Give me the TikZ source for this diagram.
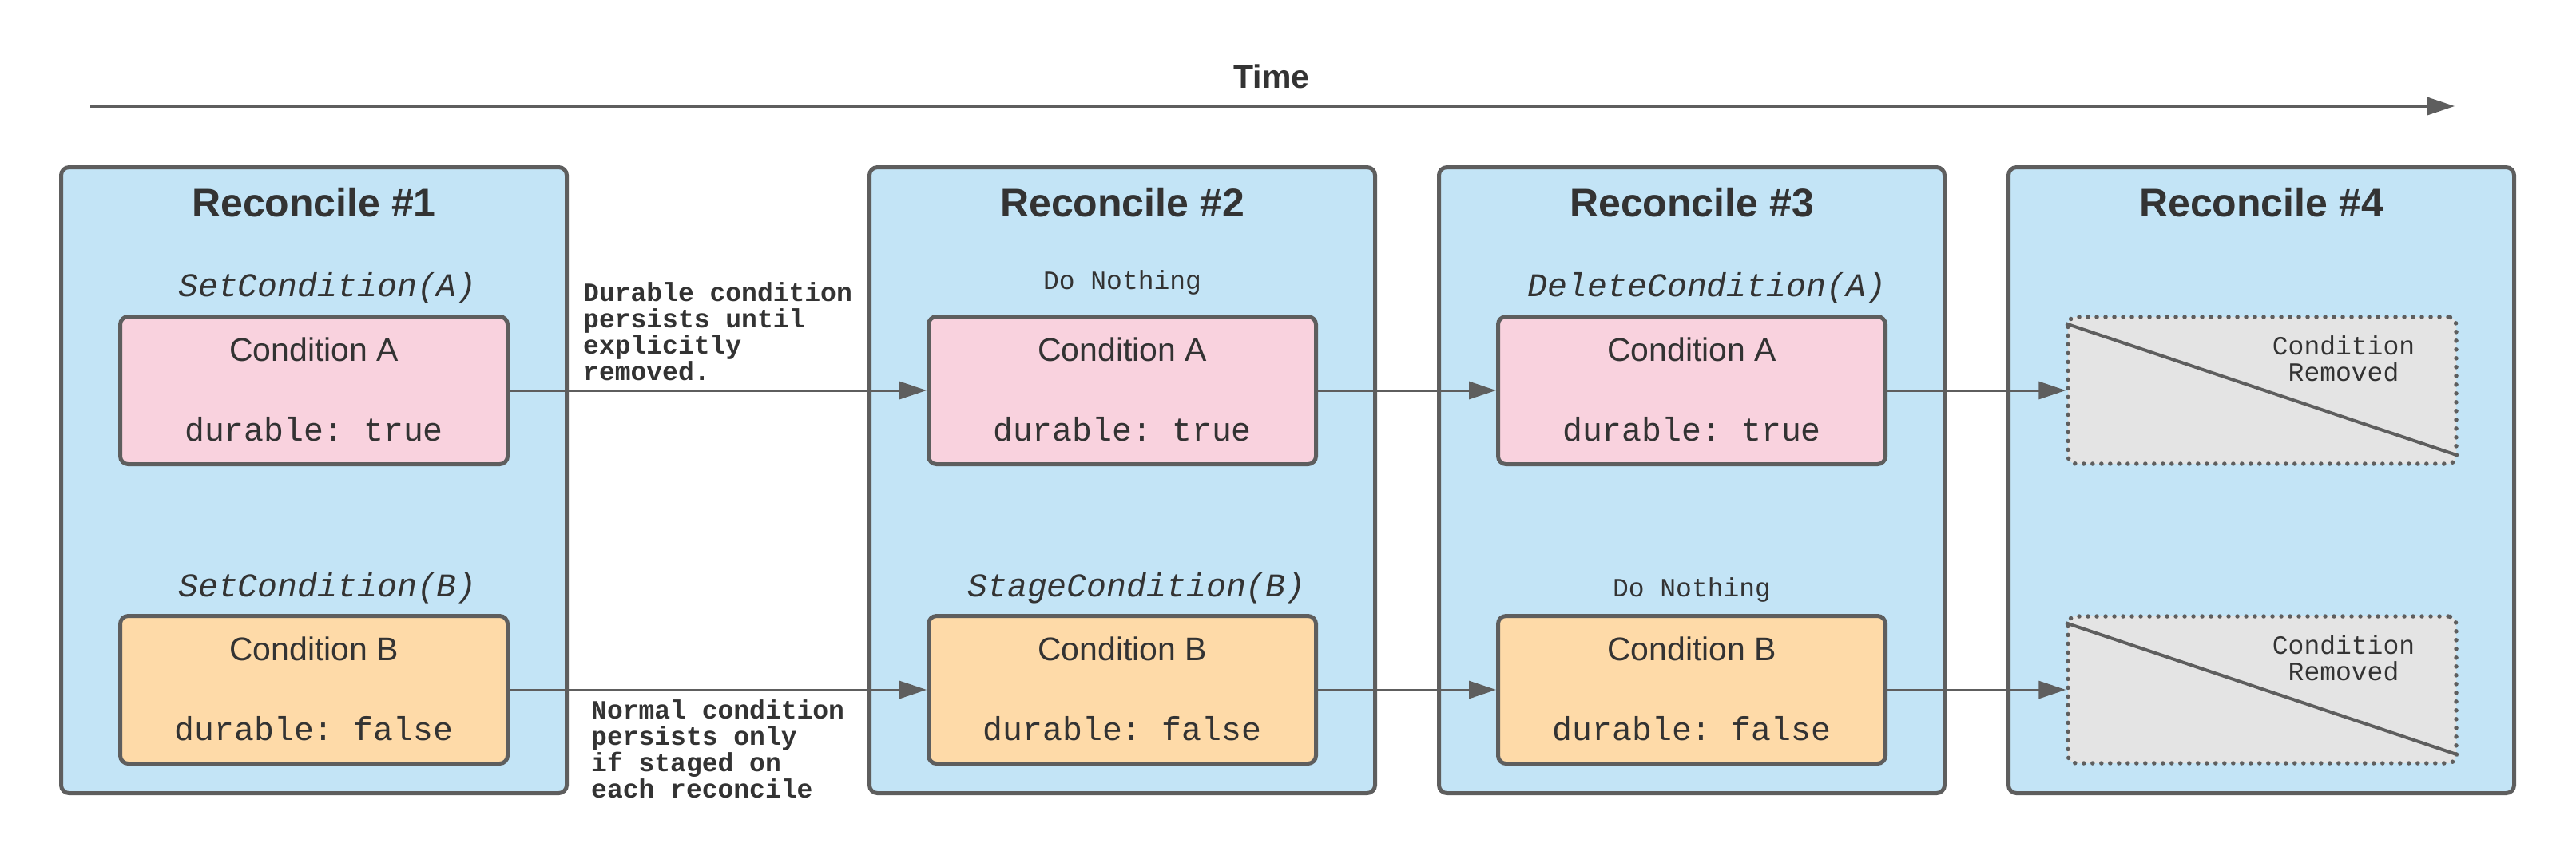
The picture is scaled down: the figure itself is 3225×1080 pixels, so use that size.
\documentclass[tikz,border=0pt]{standalone}
\usepackage{fontspec}
\setmainfont{Liberation Sans}
\setmonofont{Liberation Mono}
\usetikzlibrary{arrows.meta}
\definecolor{recfill}{HTML}{C3E4F6}
\definecolor{edge}{HTML}{5E5E5E}
\definecolor{ink}{HTML}{333333}
\definecolor{pinkfill}{HTML}{F9D2DE}
\definecolor{peachfill}{HTML}{FEDAA8}
\definecolor{gonefill}{HTML}{E4E4E4}
\begin{document}
\begin{tikzpicture}[x=1pt,y=-1pt,
  recbox/.style={draw=edge, line width=5pt, fill=recfill, rounded corners=10pt,
    minimum width=633pt, minimum height=784pt, inner sep=0pt},
  condbox/.style={draw=edge, line width=5pt, rounded corners=10pt,
    minimum width=485pt, minimum height=185pt, inner sep=0pt},
  pinkbox/.style={condbox, fill=pinkfill},
  peachbox/.style={condbox, fill=peachfill},
  gonebox/.style={draw=edge, line width=5.5pt, fill=gonefill, rounded corners=10pt,
    dash pattern=on 0pt off 11pt, line cap=round,
    minimum width=486pt, minimum height=184pt, inner sep=0pt},
  flow/.style={draw=edge, line width=3pt, -{Triangle[length=34pt,width=22pt]}},
  slash/.style={draw=edge, line width=4pt},
  ttl/.style={font=\fontsize{50}{50}\selectfont\bfseries, text=ink, anchor=base, inner sep=0pt},
  cname/.style={font=\fontsize{41}{41}\selectfont, text=ink, anchor=base, inner sep=0pt},
  ccode/.style={font=\ttfamily\fontsize{41.5}{41.5}\selectfont, text=ink, anchor=base, inner sep=0pt},
  opname/.style={font=\ttfamily\itshape\fontsize{41.5}{41.5}\selectfont, text=ink, anchor=base, inner sep=0pt},
  noop/.style={font=\ttfamily\fontsize{33}{33}\selectfont, text=ink, anchor=base, inner sep=0pt},
  note/.style={font=\ttfamily\bfseries\fontsize{33}{33}\selectfont, text=ink, align=left, anchor=north west, inner sep=0pt},
  gonetxt/.style={font=\ttfamily\fontsize{33}{33}\selectfont, text=ink, align=center, anchor=north, inner sep=0pt}
]
\useasboundingbox (0,0) rectangle (3225,1080);

% time axis
\coordinate (t0) at (113,133);
\coordinate (t1) at (3073,133);
\draw[flow] (t0) -- (t1);
\node[ttl, font=\fontsize{41}{41}\selectfont\bfseries] (time) at (1592,110) {Time};

% reconcile containers
\node[recbox] (r1) at (393,601.5) {};
\node[recbox] (r2) at (1405,601.5) {};
\node[recbox] (r3) at (2118,601.5) {};
\node[recbox] (r4) at (2831,601.5) {};
\node[ttl] (h1) at (393,271) {Reconcile \#1};
\node[ttl] (h2) at (1405,271) {Reconcile \#2};
\node[ttl] (h3) at (2118,271) {Reconcile \#3};
\node[ttl] (h4) at (2831,271) {Reconcile \#4};

% operations
\node[opname] (o1a) at (410,371) {SetCondition(A)};
\node[opname] (o1b) at (410,747) {SetCondition(B)};
\node[noop] (o2a) at (1405,362) {Do Nothing};
\node[opname] (o2b) at (1423,747) {StageCondition(B)};
\node[opname] (o3a) at (2137,371) {DeleteCondition(A)};
\node[noop] (o3b) at (2118,747) {Do Nothing};

% condition A row
\node[pinkbox] (a1) at (393,489) {};
\node[pinkbox] (a2) at (1405,489) {};
\node[pinkbox] (a3) at (2118,489) {};
\node[gonebox] (a4) at (2832,489) {};
% condition B row
\node[peachbox] (b1) at (393,864) {};
\node[peachbox] (b2) at (1405,864) {};
\node[peachbox] (b3) at (2118,864) {};
\node[gonebox] (b4) at (2832,864) {};

% texts in condition boxes
\foreach \n/\x in {1/393,2/1405,3/2118}{
  \node[cname] (an\n) at (\x,452) {Condition A};
  \node[ccode] (ad\n) at (\x,552) {durable: true};
  \node[cname] (bn\n) at (\x,827) {Condition B};
  \node[ccode] (bd\n) at (\x,927) {durable: false};
}

% removed boxes
\draw[slash] ([yshift=-11pt]a4.north west) -- ([yshift=13pt]a4.south east);
\draw[slash] ([yshift=-11pt]b4.north west) -- ([yshift=13pt]b4.south east);
\node[gonetxt] (ga) at (2934,420) {Condition\\Removed};
\node[gonetxt] (gb) at (2934,795) {Condition\\Removed};

% arrows
\draw[flow] (a1) -- (a2);
\draw[flow] (a2) -- (a3);
\draw[flow] (a3) -- (a4);
\draw[flow] (b1) -- (b2);
\draw[flow] (b2) -- (b3);
\draw[flow] (b3) -- (b4);

% notes
\node[note] (n1) at (730,353) {Durable condition\\persists until\\explicitly\\removed.};
\node[note] (n2) at (740,876) {Normal condition\\persists only\\if staged on\\each reconcile};
\end{tikzpicture}
\end{document}
